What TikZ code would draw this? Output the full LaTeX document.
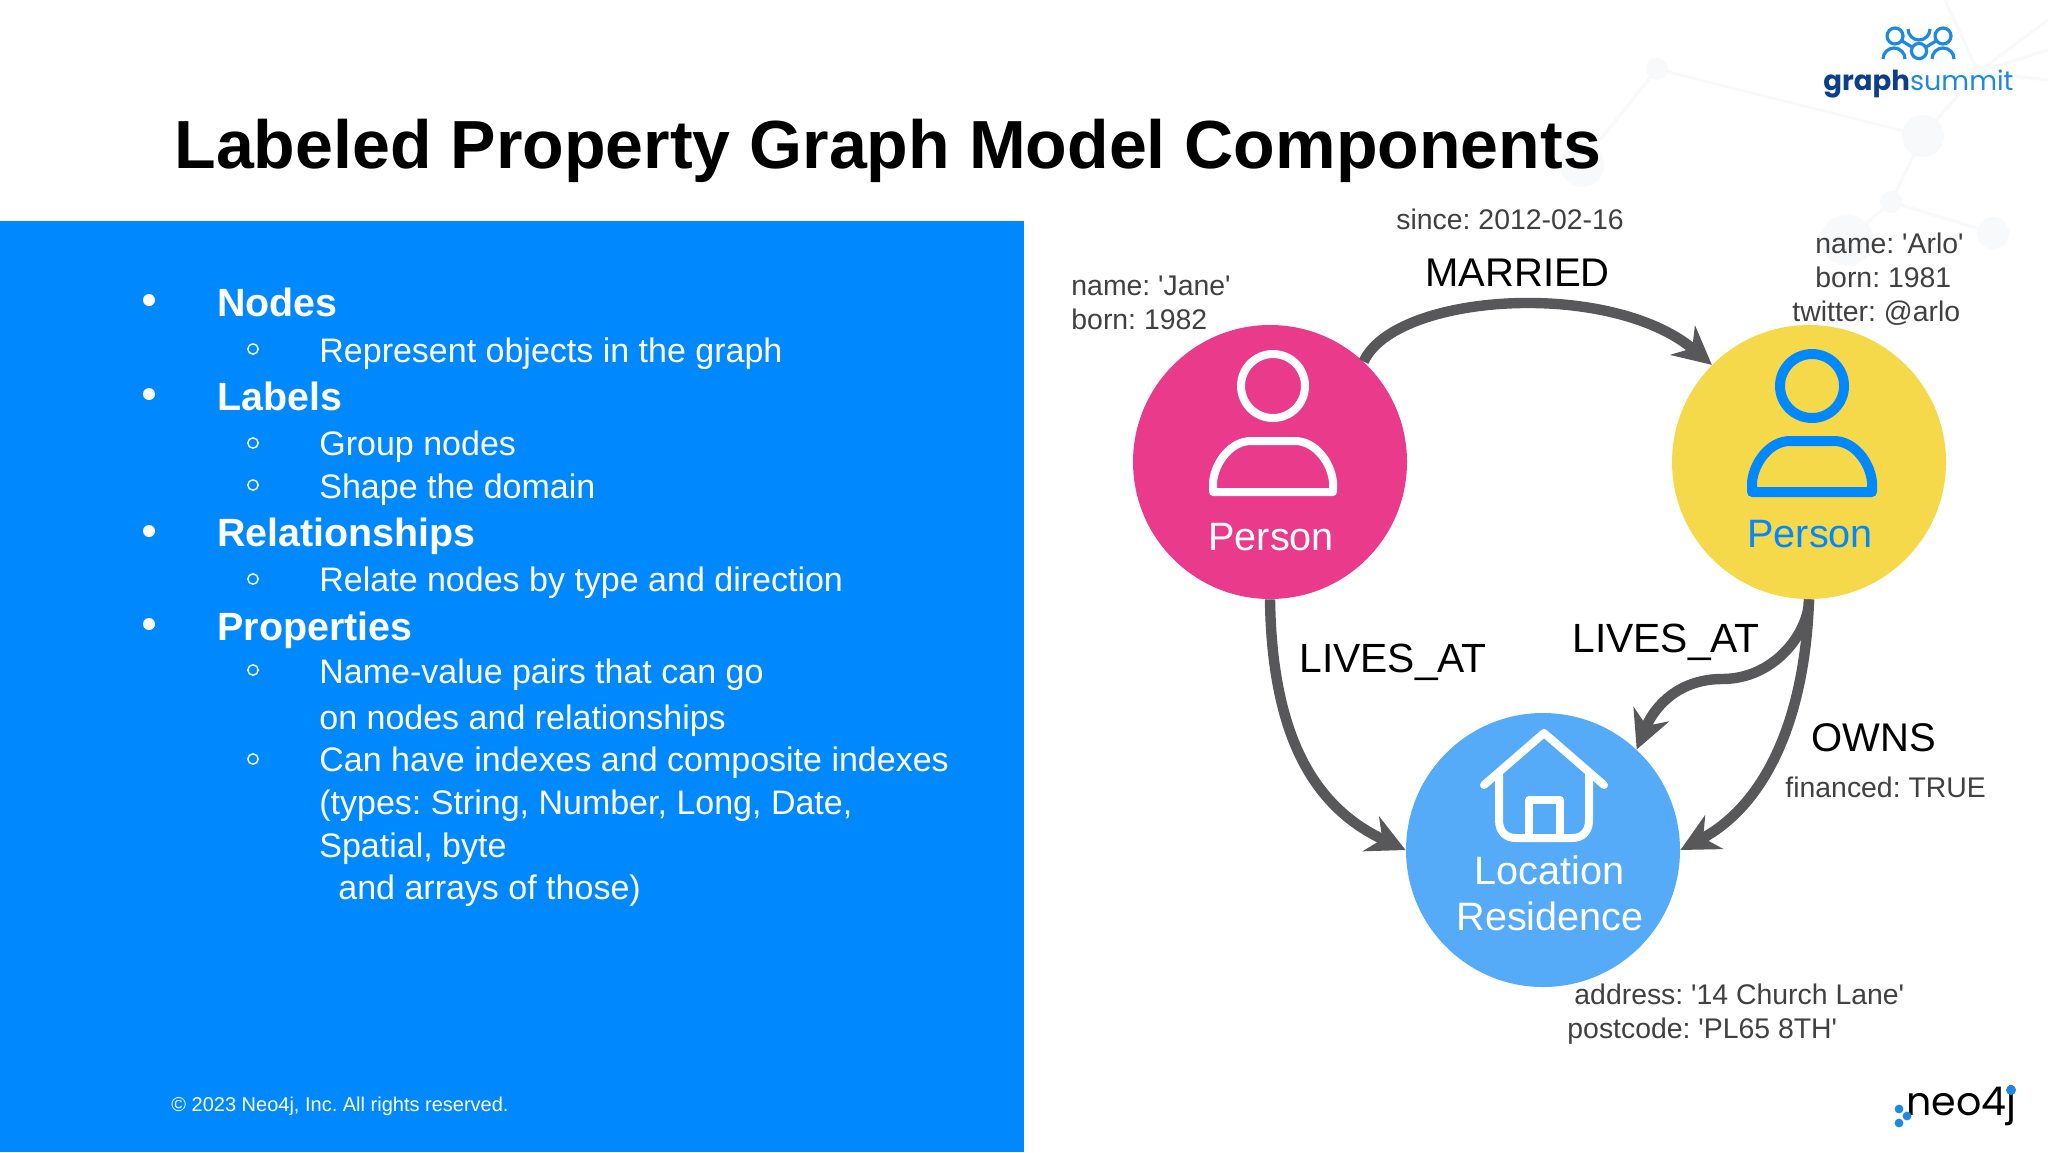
\documentclass[tikz,border=0pt]{standalone}
\usepackage{fontspec}
\setmainfont{Liberation Sans}
\newfontfamily\logofont{Poppins}
\usetikzlibrary{arrows.meta}
\AtBeginDocument{\frenchspacing}
\definecolor{panelblue}{HTML}{0088FF}
\definecolor{janepink}{HTML}{EA3A8B}
\definecolor{arloyellow}{HTML}{F6D94A}
\definecolor{placeblue}{HTML}{55ABF7}
\definecolor{arrowgray}{HTML}{58585A}
\definecolor{propgray}{HTML}{404040}
\definecolor{netgray}{HTML}{F8F9FA}
\definecolor{summitblue}{HTML}{1E88E5}
\definecolor{graphnavy}{HTML}{0B3F8C}
\tikzset{
  txt/.style={anchor=base west,inner sep=0pt},
  head/.style={txt,font=\fontsize{19.7}{24}\selectfont\bfseries,text=white},
  sub/.style={txt,font=\fontsize{17}{20}\selectfont,text=white},
  prop/.style={txt,font=\fontsize{14.2}{17}\selectfont,text=propgray},
  rel/.style={txt,font=\fontsize{20}{24}\selectfont,text=black},
  lives/.style={txt,font=\fontsize{20.4}{24}\selectfont,text=black},
  lbl/.style={txt,font=\fontsize{19.8}{24}\selectfont},
  entity/.style={circle,minimum size=137pt,inner sep=0pt},
  link/.style={draw=arrowgray,line width=5.2pt,-{Stealth[length=19pt,width=19pt]}},
  iconline/.style={line width=4pt,line join=round},
  net/.style={netgray,line width=1.5pt},
}
\newcommand{\personicon}[3]{%
\draw[iconline,#2,line width=#3,shift={(#1,0)}] (0,386) circle (16pt);
\draw[iconline,#2,line width=#3,shift={(#1,0)}] (-60,492) -- (-60,482) .. controls (-58,462) and (-42,441) .. (-22,441) -- (22,441) .. controls (42,441) and (58,462) .. (60,482) -- (60,492) -- cycle;
}
\begin{document}
\begin{tikzpicture}[x=0.5pt,y=-0.5pt]
\useasboundingbox (0,0) rectangle (2048,1152);
\fill[white] (0,0) rectangle (2048,1152);
% faint network behind the logo
\draw[net] (1600,140) -- (1657,69) -- (1923,136) -- (1978,72) -- (1945,0);
\draw[net] (1978,72) -- (2048,20);
\draw[net] (1978,72) -- (2048,50);
\draw[net] (1978,72) -- (2048,80);
\draw[net] (1923,136) -- (1891,202) -- (1847,240);
\draw[net] (1891,202) -- (1993,233);
\fill[netgray] (1657,69) circle (5.5pt);
\fill[netgray] (1923,136) circle (10.5pt);
\fill[netgray] (1891,202) circle (5.5pt);
\fill[netgray] (1847,240) circle (13pt);
\fill[netgray] (1993,233) circle (8pt);
\fill[netgray] (1978,72) circle (4pt);
\fill[netgray] (1582,165) circle (11pt);
% left panel
\fill[panelblue] (0,221) rectangle (1024,1152);
\node[txt,font=\fontsize{34.05}{40}\selectfont\bfseries] (title) at (174,168) {Labeled Property Graph Model Components};
\fill[white] (149,300) circle (3pt);
\fill[white] (149,394) circle (3pt);
\fill[white] (149,531) circle (3pt);
\fill[white] (149,624) circle (3pt);
\draw[white,line width=0.7pt] (253,349) circle (2.6pt);
\draw[white,line width=0.7pt] (253,443) circle (2.6pt);
\draw[white,line width=0.7pt] (253,485) circle (2.6pt);
\draw[white,line width=0.7pt] (253,579) circle (2.6pt);
\draw[white,line width=0.7pt] (253,670) circle (2.6pt);
\draw[white,line width=0.7pt] (253,759) circle (2.6pt);
\node[head] (nodes) at (217,316) {Nodes};
\node[sub] (nodes1) at (319,362) {Represent objects in the graph};
\node[head] (labels) at (217,410) {Labels};
\node[sub] (labels1) at (319,455.5) {Group nodes};
\node[sub] (labels2) at (319,498.5) {Shape the domain};
\node[head] (rels) at (217,546.5) {Relationships};
\node[sub] (rels1) at (319,591.5) {Relate nodes by type and direction};
\node[head] (props) at (217,640) {Properties};
\node[sub] (props1) at (319,683.5) {Name-value pairs that can go};
\node[sub] (props2) at (319,729) {on nodes and relationships};
\node[sub] (props3) at (319,771.5) {Can have indexes and composite indexes};
\node[sub] (props4) at (319,814.5) {(types: String, Number, Long, Date,};
\node[sub] (props5) at (319,857.5) {Spatial, byte};
\node[sub] (props6) at (338,899) {and arrays of those)};
\node[txt,text=white,font=\fontsize{10}{12}\selectfont] (copyright) at (171,1111) {© 2023 Neo4j, Inc. All rights reserved.};
% graph
\node[entity,fill=janepink] (jane) at (1270,462) {};
\node[entity,fill=arloyellow] (arlo) at (1809,462) {};
\node[entity,fill=placeblue] (place) at (1543,850) {};
\draw[link] (jane.47) .. controls (1395,293) and (1610,279) .. (arlo.135);
\draw[link] (jane.south) .. controls (1272,745) and (1320,810) .. (place.180);
\coordinate (bend) at (1722,679);
\draw[link] (arlo.south) .. controls (1809,632) and (1775,679) .. (bend) .. controls (1680,679) and (1655,705) .. (place.47);
\draw[link] (arlo.south) .. controls (1805,720) and (1765,805) .. (place.0);
\personicon{1273}{white}{4pt}
\personicon{1812}{panelblue}{5pt}
% house
\draw[iconline,white,line cap=round] (1484,785) -- (1544,733) -- (1604,785);
\draw[iconline,white] (1499,770) -- (1499,820) .. controls (1499,832) and (1506,838) .. (1516,838) -- (1572,838) .. controls (1582,838) and (1589,832) .. (1589,820) -- (1589,770);
\draw[iconline,white] (1529,838) -- (1529,800) -- (1560,800) -- (1560,838);
\node[lbl,text=white] (janelabel) at (1208,550) {Person};
\node[lbl,text=panelblue] (arlolabel) at (1747,547) {Person};
\node[lbl,text=white] (placelabel) at (1474,884) {Location};
\node[lbl,text=white] (placelabelb) at (1456,930) {Residence};
\node[prop] (since) at (1396,229) {since: 2012-02-16};
\node[rel] (married) at (1425,286) {MARRIED};
\node[prop] (janename) at (1071,295) {name: \textquotesingle Jane\textquotesingle};
\node[prop] (janeborn) at (1071,329) {born: 1982};
\node[prop] (arloname) at (1815,253) {name: \textquotesingle Arlo\textquotesingle};
\node[prop] (arloborn) at (1815,287) {born: 1981};
\node[prop] (arlotwitter) at (1792,321) {twitter: @arlo};
\node[lives] (livesa) at (1299,672) {LIVES\_AT};
\node[lives] (livesb) at (1572,652) {LIVES\_AT};
\node[rel] (owns) at (1811,751) {OWNS};
\node[prop] (financed) at (1785,797) {financed: TRUE};
\node[prop] (address) at (1574,1004) {address: \textquotesingle 14 Church Lane\textquotesingle};
\node[prop] (postcode) at (1567,1038) {postcode: \textquotesingle PL65 8TH\textquotesingle};
% logos
\draw[summitblue,line width=1.6pt] (1895,36) circle (4pt);
\draw[summitblue,line width=1.6pt] (1943,36) circle (4pt);
\draw[summitblue,line width=1.6pt] (1919,51) circle (3.8pt);
\draw[summitblue,line width=1.6pt] (1902,41) -- (1912,47);
\draw[summitblue,line width=1.6pt] (1936,41) -- (1926,47);
\draw[summitblue,line width=1.6pt] (1908,29) arc (180:360:5.5pt);
\draw[summitblue,line width=1.6pt] (1883,59) arc (180:0:5.5pt);
\draw[summitblue,line width=1.6pt] (1932,59) arc (180:0:5.5pt);
\node[txt,font=\logofont] (summit) at (1823,90) {\textcolor{graphnavy}{\fontsize{13.8}{16}\selectfont\bfseries graph}\textcolor{summitblue}{\fontsize{13.5}{16}\selectfont summit}};
\node[txt,font=\logofont\fontsize{19.8}{26}\selectfont] (neo) at (1906,1115) {neo4j};
\fill[summitblue] (2011,1090) circle (2.5pt);
\fill[summitblue] (1899,1109) circle (2.2pt);
\fill[summitblue] (1907,1116) circle (2.2pt);
\fill[summitblue] (1899,1123) circle (2.2pt);
\end{tikzpicture}
\end{document}
